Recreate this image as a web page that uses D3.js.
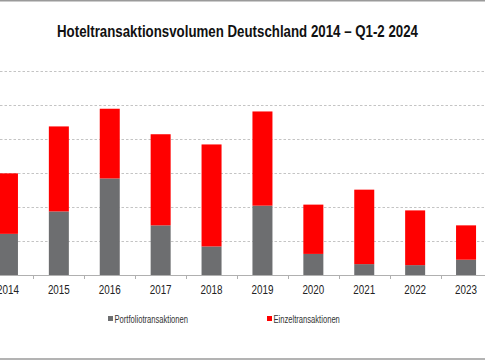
<!DOCTYPE html>
<html>
<head>
<meta charset="utf-8">
<script src="https://cdn.jsdelivr.net/npm/d3@7"></script>
<style>
  html, body { margin: 0; padding: 0; background: #fff; }
  svg { display: block; }
</style>
</head>
<body>
<svg id="chart" width="485" height="360"></svg>
<script>
// Data (Mio. €)
const categories = ["2014","2015","2016","2017","2018","2019","2020","2021","2022","2023","Q1-2 2024"];
const portfolio = [1210, 1870, 2840, 1460, 840, 2040, 620, 320, 290, 450, 200];
const einzel    = [1780, 2500, 2050, 2680, 3000, 2770, 1450, 2190, 1610, 1010, 700];
const seriesNames = ["Portfoliotransaktionen", "Einzeltransaktionen"];
const yTicks = [0, 1000, 2000, 3000, 4000, 5000, 6000];
const titleText = "Hoteltransaktionsvolumen Deutschland 2014 – Q1-2 2024";

const W = 485, H = 360;
const FONT = "'Liberation Sans Narrow', 'Arial Narrow', 'Liberation Sans', Arial, sans-serif";
const colors = { Portfoliotransaktionen: "#6d6e70", Einzeltransaktionen: "#ff0000" };
const svg = d3.select("#chart");

// condense text to a narrow look
function narrow(sel, factor) {
  sel.each(function () {
    const w = this.getComputedTextLength();
    d3.select(this).attr("textLength", w * factor).attr("lengthAdjust", "spacingAndGlyphs");
  });
}

// frame lines
svg.append("line").attr("x1", 0).attr("x2", W).attr("y1", 0.75).attr("y2", 0.75)
  .attr("stroke", "#9a9a9a").attr("stroke-width", 1.5);
svg.append("line").attr("x1", 0).attr("x2", W).attr("y1", 359).attr("y2", 359)
  .attr("stroke", "#9a9a9a").attr("stroke-width", 1.5);

// title
svg.append("text")
  .attr("x", 237.5).attr("y", 37)
  .attr("text-anchor", "middle")
  .attr("font-family", FONT)
  .attr("font-weight", "bold")
  .attr("font-size", 16.5)
  .attr("fill", "#111")
  .attr("textLength", 361).attr("lengthAdjust", "spacingAndGlyphs")
  .text(titleText);

// scales
const x = d3.scaleBand().domain(categories).range([-17.5, 542.4])
  .paddingInner(0.607).paddingOuter(0.3035);
const y = d3.scaleLinear().domain([0, 6000]).range([275, 71]);

// gridlines
svg.append("g").selectAll("line").data(yTicks.filter(d => d > 0)).join("line")
  .attr("x1", 0).attr("x2", W)
  .attr("y1", d => Math.round(y(d)) + 0.5).attr("y2", d => Math.round(y(d)) + 0.5)
  .attr("stroke", "#c4c4c4").attr("stroke-width", 1)
  .attr("stroke-dasharray", "2.5,2");

// stacked data
const rows = categories.map((c, i) => ({ cat: c, Portfoliotransaktionen: portfolio[i], Einzeltransaktionen: einzel[i] }));
const stack = d3.stack().keys(seriesNames)(rows);

svg.append("g").selectAll("g").data(stack).join("g")
  .attr("fill", d => colors[d.key])
  .selectAll("rect").data(d => d).join("rect")
  .attr("x", d => x(d.data.cat))
  .attr("width", x.bandwidth())
  .attr("y", d => y(d[1]))
  .attr("height", d => y(d[0]) - y(d[1]));

// x axis
const step = x.step();
const xAxis = svg.append("g").attr("transform", "translate(0,275)");
xAxis.append("line").attr("x1", 0).attr("x2", W).attr("y1", 0.5).attr("y2", 0.5)
  .attr("stroke", "#b0b0b0").attr("stroke-width", 1);
const boundaries = d3.range(categories.length + 1).map(i => -17.5 + i * step);
xAxis.selectAll("line.tick").data(boundaries).join("line").attr("class", "tick")
  .attr("x1", d => Math.round(d) + 0.5).attr("x2", d => Math.round(d) + 0.5)
  .attr("y1", 0).attr("y2", 4)
  .attr("stroke", "#b0b0b0");
xAxis.selectAll("text").data(categories).join("text")
  .attr("x", d => x(d) + x.bandwidth() / 2)
  .attr("y", 18.5)
  .attr("text-anchor", "middle")
  .attr("font-family", FONT)
  .attr("font-size", 12)
  .attr("fill", "#222")
  .text(d => d)
  .call(narrow, 0.82);

// legend
const legendPos = [108, 267];
const lg = svg.append("g").selectAll("g").data(seriesNames).join("g")
  .attr("transform", (d, i) => `translate(${legendPos[i]},319)`);
lg.append("rect").attr("x", 0).attr("y", -3).attr("width", 5).attr("height", 5)
  .attr("fill", d => colors[d]);
lg.append("text").attr("x", 6.5).attr("y", 3.5)
  .attr("font-family", FONT)
  .attr("font-size", 10)
  .attr("fill", "#333")
  .text(d => d)
  .call(narrow, 0.76);
</script>
</body>
</html>
